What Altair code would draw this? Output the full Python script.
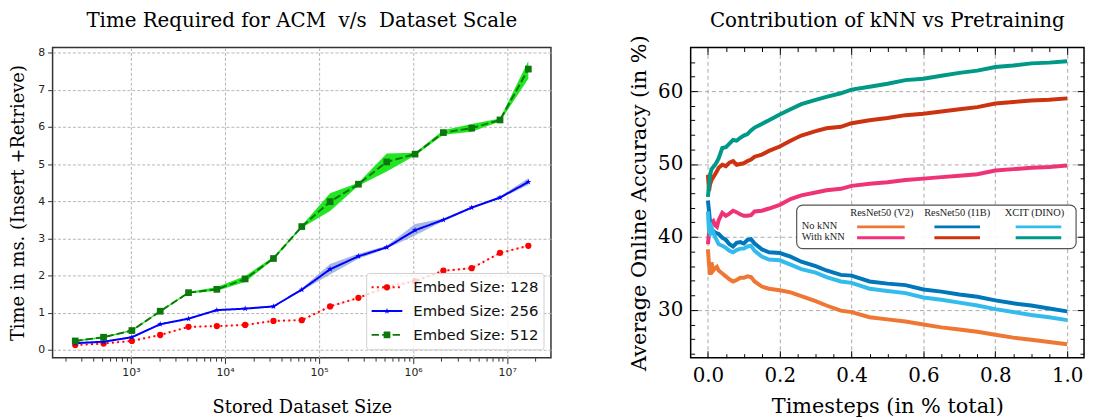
import altair as alt
import pandas as pd

# ---------------- Left panel: time vs dataset scale ----------------
dataset_sizes = [256, 512, 1024, 2048, 4096, 8192, 16384, 32768, 65536,
                 131072, 262144, 524288, 1048576, 2097152, 4194304,
                 8388608, 16777216]
embed_labels = ["Embed Size: 128", "Embed Size: 256", "Embed Size: 512"]

time_128 = [0.13, 0.17, 0.24, 0.40, 0.62, 0.64, 0.67, 0.78, 0.80, 1.17, 1.40, 1.69, 1.85, 2.13, 2.20, 2.61, 2.80]
lo_128 = [0.12, 0.16, 0.23, 0.39, 0.61, 0.63, 0.66, 0.77, 0.79, 1.15, 1.38, 1.62, 1.82, 2.11, 2.18, 2.59, 2.78]
hi_128 = [0.14, 0.18, 0.25, 0.41, 0.63, 0.65, 0.68, 0.79, 0.81, 1.19, 1.42, 1.76, 1.88, 2.15, 2.22, 2.63, 2.82]

time_256 = [0.18, 0.22, 0.34, 0.69, 0.84, 1.07, 1.11, 1.17, 1.62, 2.17, 2.52, 2.76, 3.22, 3.50, 3.83, 4.10, 4.52]
lo_256 = [0.16, 0.20, 0.32, 0.67, 0.82, 1.05, 1.09, 1.15, 1.59, 2.03, 2.45, 2.73, 3.08, 3.47, 3.80, 4.07, 4.44]
hi_256 = [0.20, 0.24, 0.36, 0.71, 0.86, 1.09, 1.13, 1.19, 1.65, 2.31, 2.59, 2.80, 3.39, 3.54, 3.86, 4.13, 4.62]

time_512 = [0.24, 0.34, 0.52, 1.04, 1.54, 1.63, 1.91, 2.46, 3.32, 3.99, 4.46, 5.06, 5.27, 5.85, 5.97, 6.19, 7.56]
lo_512 = [0.22, 0.32, 0.50, 1.02, 1.52, 1.59, 1.83, 2.43, 3.29, 3.74, 4.42, 4.80, 5.23, 5.79, 5.87, 6.15, 7.30]
hi_512 = [0.26, 0.36, 0.54, 1.06, 1.56, 1.69, 1.99, 2.50, 3.35, 4.22, 4.50, 5.29, 5.31, 5.91, 6.08, 6.23, 7.78]

x_major_ticks = [1000, 10000, 100000, 1000000, 10000000]
x_major_labels = ["10³", "10⁴", "10⁵", "10⁶", "10⁷"]
y_left_ticks = [0, 1, 2, 3, 4, 5, 6, 7, 8]

# ---------------- Right panel: kNN vs pretraining ----------------
timesteps = [0, 0.003, 0.006, 0.01, 0.015, 0.02, 0.025, 0.03, 0.04, 0.05, 0.06, 0.07,
             0.08, 0.09, 0.1, 0.11, 0.12, 0.13, 0.15, 0.17, 0.2, 0.23, 0.26, 0.3,
             0.33, 0.37, 0.4, 0.45, 0.5, 0.55, 0.6, 0.65, 0.7, 0.75, 0.8, 0.85,
             0.9, 0.95, 1.0]
acc_v2_no = [38.3, 36.3, 34.8, 36.5, 35.4, 35.7, 35.9, 35.4, 35.0, 34.6, 34.2, 33.9,
             34.1, 34.4, 34.4, 34.6, 34.5, 33.9, 33.2, 32.9, 32.7, 32.4, 31.9, 31.2,
             30.6, 29.9, 29.7, 29.0, 28.7, 28.4, 28.0, 27.6, 27.3, 27.0, 26.6, 26.2,
             25.9, 25.6, 25.3]
acc_v2_knn = [39.0, 40.5, 41.8, 42.0, 42.2, 41.6, 41.4, 42.3, 43.3, 42.9, 43.2, 43.6,
              43.4, 43.1, 42.9, 42.9, 43.0, 43.5, 43.6, 43.9, 44.4, 45.2, 45.7, 46.1,
              46.4, 46.6, 47.0, 47.3, 47.5, 47.8, 48.0, 48.2, 48.4, 48.6, 49.1, 49.3,
              49.5, 49.6, 49.8]
acc_i1b_no = [45.0, 43.6, 42.0, 41.0, 40.8, 40.6, 40.5, 40.4, 39.9, 39.6, 39.0, 38.7,
              39.2, 39.3, 39.1, 39.6, 39.7, 39.1, 38.3, 37.9, 37.8, 37.3, 36.6, 36.0,
              35.4, 34.8, 34.7, 33.9, 33.6, 33.4, 32.8, 32.5, 32.1, 31.8, 31.3, 30.9,
              30.6, 30.2, 29.8]
acc_i1b_knn = [48.5, 46.3, 47.2, 47.8, 48.2, 48.6, 49.0, 49.5, 49.9, 49.7, 50.2, 50.4,
               49.9, 50.0, 50.1, 50.4, 50.6, 51.0, 51.3, 51.8, 52.4, 53.2, 53.9, 54.5,
               54.9, 55.1, 55.6, 56.0, 56.3, 56.7, 56.9, 57.2, 57.5, 57.8, 58.3, 58.5,
               58.7, 58.8, 59.0]
acc_dino_no = [43.5, 40.8, 40.5, 41.3, 40.6, 40.0, 39.5, 39.0, 38.8, 38.5, 38.1, 37.9,
               38.2, 38.4, 38.4, 38.7, 38.8, 38.1, 37.3, 36.9, 36.8, 36.2, 35.6, 35.1,
               34.5, 33.9, 33.7, 32.9, 32.6, 32.3, 31.7, 31.4, 31.0, 30.6, 30.1, 29.7,
               29.3, 29.0, 28.6]
acc_dino_knn = [45.5, 47.0, 48.5, 49.3, 49.6, 49.9, 50.3, 50.8, 52.2, 52.3, 52.8, 53.3,
                53.2, 53.6, 53.9, 54.1, 54.6, 55.0, 55.5, 56.0, 56.8, 57.5, 58.2, 58.8,
                59.2, 59.7, 60.2, 60.6, 61.0, 61.5, 61.7, 62.1, 62.5, 62.8, 63.3, 63.5,
                63.8, 63.9, 64.1]

right_series = ["V2 no kNN", "V2 kNN", "I1B no kNN", "I1B kNN", "DINO no kNN", "DINO kNN"]
right_colors = ["#EE7733", "#EE3377", "#0077BB", "#CC3311", "#33BBEE", "#009988"]
right_values = [acc_v2_no, acc_v2_knn, acc_i1b_no, acc_i1b_knn, acc_dino_no, acc_dino_knn]
model_headers = ["ResNet50 (V2)", "ResNet50 (I1B)", "XCIT (DINO)"]
row_labels = ["No kNN", "With kNN"]
x_right_ticks = [0.0, 0.2, 0.4, 0.6, 0.8, 1.0]
y_right_ticks = [30, 40, 50, 60]

# =================== LEFT CHART ===================
SERIF = "DejaVu Serif"
STAR = ("M0,-1L0.2245,-0.309L0.951,-0.309L0.363,0.118L0.588,0.809L0,0.382"
        "L-0.588,0.809L-0.363,0.118L-0.951,-0.309L-0.2245,-0.309Z")
line_colors = ["#ff0000", "#0000ff", "#0b780b"]
band_colors = ["#f08080", "#8aa3d6", "#22e622"]
band_opacity = [0.25, 0.75, 1.0]
dashes = [[2, 3.3], [1, 0], [7.4, 3.2]]
shapes = ["circle", STAR, "square"]
msizes = [40, 42, 46]

x_minor = [m * 10 ** e for e in range(2, 8) for m in range(2, 10)]
x_minor = [v for v in x_minor if 147 <= v <= 2.9e7]
x_all_ticks = sorted(x_major_ticks + x_minor)
major_test = "indexof([1000, 10000, 100000, 1000000, 10000000], datum.value) >= 0"
label_expr = " : ".join(
    f"datum.value == {v} ? '{lab}'" for v, lab in zip(x_major_ticks, x_major_labels)
) + " : ''"

x_scale_l = alt.Scale(type="log", domain=[147, 2.92e7], nice=False)
y_scale_l = alt.Scale(domain=[-0.21, 8.14], nice=False, zero=False)

x_axis_l = alt.Axis(
    values=x_all_ticks, labelExpr=label_expr,
    tickSize={"condition": {"test": major_test, "value": 6}, "value": 3.5},
    gridOpacity={"condition": {"test": major_test, "value": 1}, "value": 0},
    grid=True, gridDash=[3, 2], gridColor="#b5b5b5", domain=False,
    tickColor="#333333", labelFont="DejaVu Sans", labelFontSize=11,
    labelColor="#222222", labelPadding=3,
    title="Stored Dataset Size", titleFont=SERIF, titleFontSize=18,
    titleFontWeight="normal", titleColor="black", titlePadding=21,
)
y_axis_l = alt.Axis(
    values=y_left_ticks, tickSize=5, grid=True, gridDash=[3, 2],
    gridColor="#b5b5b5", domain=False, tickColor="#333333",
    labelFont="DejaVu Sans", labelFontSize=11, labelColor="#222222", labelPadding=3,
    title="Time in ms. (Insert +Retrieve)", titleFont=SERIF, titleFontSize=18,
    titleFontWeight="normal", titleColor="black", titlePadding=10,
)

X_l = alt.X("size:Q", scale=x_scale_l, axis=x_axis_l)

left_layers = []
series_data = [(time_128, lo_128, hi_128), (time_256, lo_256, hi_256), (time_512, lo_512, hi_512)]
for i, (lab, (vals, lo, hi)) in enumerate(zip(embed_labels, series_data)):
    df = pd.DataFrame({"size": dataset_sizes, "time": vals, "lo": lo, "hi": hi})
    band = alt.Chart(df).mark_area(color=band_colors[i], opacity=band_opacity[i]).encode(
        x=X_l,
        y=alt.Y("lo:Q", scale=y_scale_l, axis=y_axis_l),
        y2="hi:Q",
    )
    left_layers.append(band)
for i, (lab, (vals, lo, hi)) in enumerate(zip(embed_labels, series_data)):
    df = pd.DataFrame({"size": dataset_sizes, "time": vals, "lo": lo, "hi": hi})
    line = alt.Chart(df).mark_line(color=line_colors[i], strokeWidth=2,
                                   strokeDash=dashes[i]).encode(
        x=X_l, y=alt.Y("time:Q", scale=y_scale_l, axis=y_axis_l))
    pts = alt.Chart(df).mark_point(color=line_colors[i], filled=True, opacity=1,
                                   shape=shapes[i], size=msizes[i]).encode(
        x=X_l, y=alt.Y("time:Q", scale=y_scale_l, axis=y_axis_l))
    left_layers += [line, pts]

# legend (drawn as decoration inside the plot area)
leg_box = alt.Chart(pd.DataFrame({"a": [0]})).mark_rect(
    fill="white", fillOpacity=0.8, stroke="#d0d0d0", strokeWidth=1, cornerRadius=3
).encode(x=alt.value(317), x2=alt.value(496), y=alt.value(228), y2=alt.value(305))
left_layers.append(leg_box)
leg_rows_y = [242, 266, 290]
for i, lab in enumerate(embed_labels):
    ldf = pd.DataFrame({"label": [lab]})
    left_layers.append(alt.Chart(ldf).mark_rule(
        color=line_colors[i], strokeWidth=2, strokeDash=dashes[i]).encode(
        x=alt.value(322), x2=alt.value(353), y=alt.value(leg_rows_y[i])))
    left_layers.append(alt.Chart(ldf).mark_point(
        color=line_colors[i], filled=True, opacity=1, shape=shapes[i], size=msizes[i]).encode(
        x=alt.value(337.5), y=alt.value(leg_rows_y[i])))
    left_layers.append(alt.Chart(ldf).mark_text(
        align="left", baseline="middle", font="DejaVu Sans", fontSize=15, color="#111111").encode(
        x=alt.value(364), y=alt.value(leg_rows_y[i]), text="label:N"))

left = alt.layer(*left_layers).properties(
    width=503, height=313,
    title=alt.TitleParams("Time Required for ACM\u00a0 v/s\u00a0 Dataset Scale",
                          font=SERIF, fontSize=20, fontWeight="normal",
                          color="black", anchor="middle", offset=16),
    view=alt.ViewBackground(stroke="#333333", strokeWidth=1.5),
)

# =================== RIGHT CHART ===================
rows = []
for name, vals in zip(right_series, right_values):
    for t, v in zip(timesteps, vals):
        rows.append({"t": t, "acc": v, "series": name})
right_df = pd.DataFrame(rows)

x_scale_r = alt.Scale(domain=[-0.048, 1.047], nice=False, zero=False)
y_scale_r = alt.Scale(domain=[23.45, 65.97], nice=False, zero=False)

x_lab_axis = alt.Axis(
    values=x_right_ticks, format=".1f", ticks=False, domain=False, grid=True,
    gridDash=[4, 3], gridColor="#aaaaaa", labelFont=SERIF, labelFontSize=20,
    labelColor="black", labelPadding=8, title="Timesteps (in % total)",
    titleFont=SERIF, titleFontSize=21, titleFontWeight="normal",
    titleColor="black", titlePadding=10,
)
y_lab_axis = alt.Axis(
    values=y_right_ticks, ticks=False, domain=False, grid=True,
    gridDash=[4, 3], gridColor="#aaaaaa", labelFont=SERIF, labelFontSize=20,
    labelColor="black", labelPadding=8, title="Average Online Accuracy (in %)",
    titleFont=SERIF, titleFontSize=21, titleFontWeight="normal",
    titleColor="black", titlePadding=8,
)

x_all_r = [round(i * 0.05, 2) for i in range(0, 21)]
y_all_r = list(range(24, 66, 2))
x_major_test = "abs(datum.value * 5 - round(datum.value * 5)) < 0.001"
y_major_test = "datum.value % 10 == 0"


def tick_axis(orient, values, test):
    return alt.Axis(
        orient=orient, values=values, offset=-7, tickSize=7, tickColor="black",
        tickWidth=1,
        tickDash={"condition": {"test": test, "value": [9, 0]}, "value": [4, 3]},
        tickDashOffset={"condition": {"test": test, "value": 0}, "value": 4},
        labels=False, grid=False, domain=False, title=None,
    )


lines_r = alt.Chart(right_df).mark_line(strokeWidth=4).encode(
    x=alt.X("t:Q", scale=x_scale_r, axis=x_lab_axis),
    y=alt.Y("acc:Q", scale=y_scale_r, axis=y_lab_axis),
    color=alt.Color("series:N", scale=alt.Scale(domain=right_series, range=right_colors),
                    legend=None),
    order=alt.Order("t:Q"),
)

tick_df = pd.DataFrame({"t": [0.0, 1.0], "acc": [30, 60]})
ticks_bl = alt.Chart(tick_df).mark_point(opacity=0).encode(
    x=alt.X("t:Q", scale=x_scale_r, axis=tick_axis("bottom", x_all_r, x_major_test)),
    y=alt.Y("acc:Q", scale=y_scale_r, axis=tick_axis("left", y_all_r, y_major_test)),
)
ticks_tr = alt.Chart(tick_df).mark_point(opacity=0).encode(
    x=alt.X("t:Q", scale=x_scale_r, axis=tick_axis("top", x_all_r, x_major_test)),
    y=alt.Y("acc:Q", scale=y_scale_r, axis=tick_axis("right", y_all_r, y_major_test)),
)

right_layers = [lines_r]
# legend box
right_layers.append(alt.Chart(pd.DataFrame({"a": [0]})).mark_rect(
    fill="white", fillOpacity=0.9, stroke="#555555", strokeWidth=1.2, cornerRadius=6
).encode(x=alt.value(107), x2=alt.value(389), y=alt.value(159), y2=alt.value(203)))
hdr_x = [193, 269, 347]
seg_x = [(168, 216), (246, 292), (328, 374)]
row_y = [181, 192]
for j, h in enumerate(model_headers):
    right_layers.append(alt.Chart(pd.DataFrame({"label": [h]})).mark_text(
        align="center", baseline="middle", font="Liberation Serif", fontSize=10.5,
        color="#222222").encode(x=alt.value(hdr_x[j]), y=alt.value(167), text="label:N"))
for r, lab in enumerate(row_labels):
    right_layers.append(alt.Chart(pd.DataFrame({"label": [lab]})).mark_text(
        align="left", baseline="middle", font="Liberation Serif", fontSize=10.5,
        color="#222222").encode(x=alt.value(112), y=alt.value(row_y[r] - 1), text="label:N"))
for k, name in enumerate(right_series):
    j, r = k // 2, k % 2
    right_layers.append(alt.Chart(pd.DataFrame({"label": [name]})).mark_rule(
        color=right_colors[k], strokeWidth=3).encode(
        x=alt.value(seg_x[j][0]), x2=alt.value(seg_x[j][1]), y=alt.value(row_y[r])))
right_layers += [ticks_bl, ticks_tr]

right = alt.layer(*right_layers).resolve_axis(x="independent", y="independent").properties(
    width=397, height=313,
    title=alt.TitleParams("Contribution of kNN vs Pretraining", font=SERIF, fontSize=20,
                          fontWeight="normal", color="black", anchor="middle", offset=4),
    view=alt.ViewBackground(stroke="black", strokeWidth=1.5),
)

chart = alt.hconcat(left, right, spacing=76).properties(
    padding={"left": 1, "top": 0, "right": 0, "bottom": 0}
).configure(background="white")

chart.save("out.html", embed_options={"renderer": "svg", "actions": False})
